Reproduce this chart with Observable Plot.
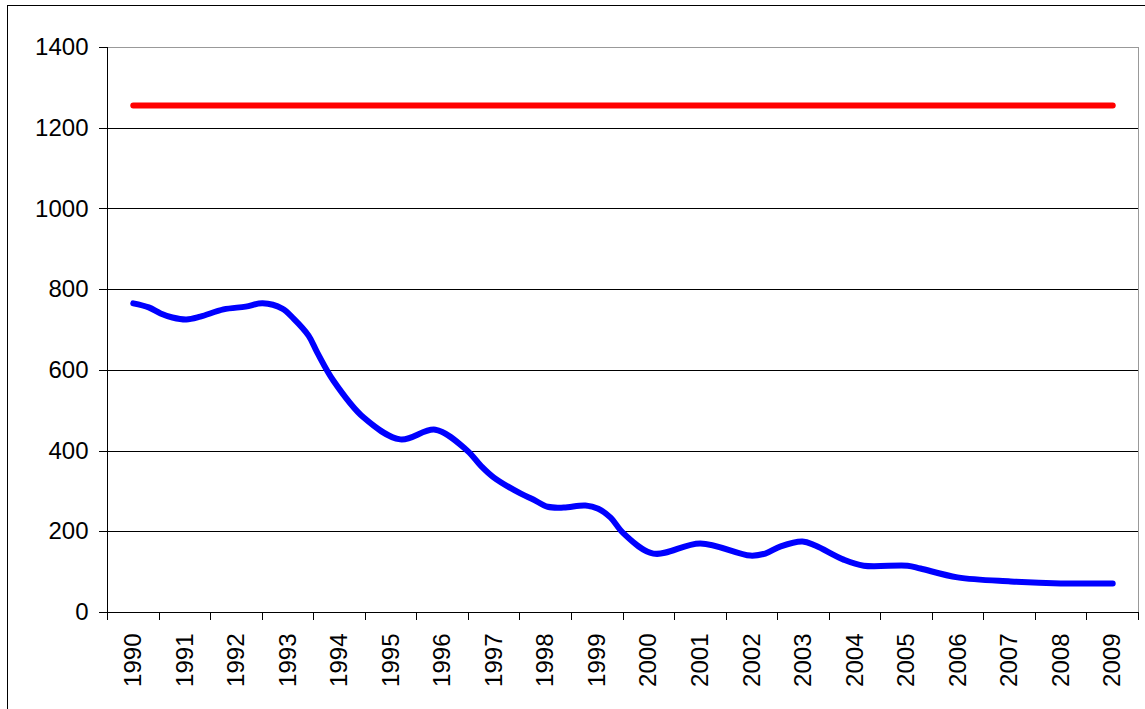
<!DOCTYPE html>
<html>
<head>
<meta charset="utf-8">
<script src="https://cdn.jsdelivr.net/npm/d3@7"></script>
<script src="https://cdn.jsdelivr.net/npm/@observablehq/plot@0.6"></script>
<style>
  html, body { margin: 0; padding: 0; background: #fff; overflow: hidden; }
  #wrap { position: relative; width: 1145px; height: 709px; }
  #frame { position: absolute; left: 7px; top: 5px; width: 1160px; height: 720px; border: 1px solid #000; box-sizing: border-box; pointer-events: none; }
</style>
</head>
<body>
<div id="wrap"><div id="frame"></div></div>
<script>
// Category years (x axis labels)
const years = d3.range(1990, 2010);
// Red reference series (constant each year)
const redValues = years.map(() => 1256);
// Blue series: positions (fractional year) and values
const blueT = [1990.0, 1990.3, 1990.53, 1990.76, 1991.03, 1991.3, 1991.75, 1992.18, 1992.51, 1992.89,
  1993.11, 1993.4, 1993.57, 1993.88, 1994.47, 1995.18, 1995.86, 1996.48, 1996.74, 1996.99,
  1997.51, 1997.76, 1998.04, 1998.35, 1998.77, 1999.02, 1999.26, 1999.51, 2000.09, 2001.0,
  2001.97, 2002.26, 2002.56, 2002.98, 2003.23, 2003.78, 2004.17, 2005.02, 2005.27, 2005.99,
  2007.02, 2007.99, 2009.0];
const blueV = [766, 756, 741, 731, 726, 733, 751, 758, 766, 753,
  728, 686, 644, 575, 483, 429, 453, 401, 364, 335,
  295, 280, 262, 260, 265, 257, 235, 196, 146, 171,
  141, 146, 164, 176, 166, 131, 116, 116, 109, 87,
  77, 72, 72];
const yTicks = [0, 200, 400, 600, 800, 1000, 1200, 1400];

const red = years.map((y, i) => ({t: y, v: redValues[i]}));
const blue = blueT.map((t, i) => ({t, v: blueV[i]}));
const bounds = d3.range(1989.5, 2010, 1);

const chart = Plot.plot({
  width: 1145,
  height: 709,
  marginLeft: 107,
  marginRight: 7,
  marginTop: 47,
  marginBottom: 97,
  style: {fontFamily: "'Liberation Sans', Arial, sans-serif", fontSize: "24px", color: "#000", background: "transparent"},
  x: {domain: [1989.5, 2009.5], axis: null},
  y: {domain: [0, 1400], axis: null},
  marks: [
    Plot.ruleY(yTicks.filter(d => d > 0 && d < 1400), {stroke: "#000", strokeWidth: 1, shapeRendering: "crispEdges"}),
    Plot.ruleY([1400], {stroke: "#999", strokeWidth: 1.5, shapeRendering: "crispEdges"}),
    Plot.ruleX([2009.5], {stroke: "#999", strokeWidth: 1.5, shapeRendering: "crispEdges"}),
    Plot.axisY({ticks: yTicks, label: null, tickSize: 8, tickPadding: 11, fontSize: 24, tickFormat: d => String(d), shapeRendering: "crispEdges"}),
    Plot.ruleX([1989.5], {stroke: "#000", strokeWidth: 1.2, shapeRendering: "crispEdges"}),
    Plot.ruleY([0], {stroke: "#000", strokeWidth: 1.2, shapeRendering: "crispEdges"}),
    Plot.ruleX(bounds, {x: d => d, y1: 0, y2: -20, stroke: "#000", strokeWidth: 1, shapeRendering: "crispEdges"}),
    Plot.text(years, {x: d => d, y: 0, dy: 21, text: d => String(d), rotate: -90, textAnchor: "end", lineAnchor: "middle", fontSize: 24, fill: "#000"}),
    Plot.line(red, {x: "t", y: "v", stroke: "#ff0000", strokeWidth: 6, strokeLinecap: "round"}),
    Plot.line(blue, {x: "t", y: "v", stroke: "#0000ff", strokeWidth: 6, curve: "catmull-rom", strokeLinecap: "round", strokeLinejoin: "round"})
  ]
});
document.getElementById("wrap").prepend(chart);
</script>
</body>
</html>
